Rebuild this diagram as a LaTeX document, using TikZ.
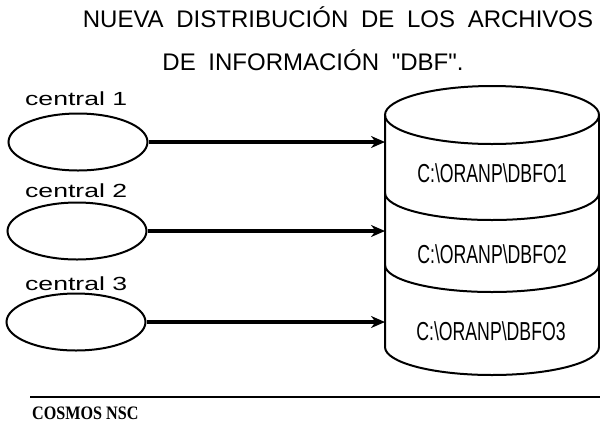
\documentclass[tikz,border=0pt]{standalone}
\usepackage{fontspec}
\setmainfont{Liberation Sans}
\newfontfamily\titlefont[WordSpace=1.9]{Liberation Sans}
\newfontfamily\dbffont[FakeStretch=0.68]{Liberation Sans}
\newfontfamily\centralfont[FakeStretch=1.4]{Liberation Sans}
\newfontfamily\footfont[FakeStretch=0.85]{Liberation Serif}
\usetikzlibrary{shapes,arrows.meta,positioning,calc}

\begin{document}
\begin{tikzpicture}[
  x=1pt, y=-1pt,
  title/.style   = {font=\titlefont\fontsize{24}{28}\selectfont, anchor=base, inner sep=0pt},
  central/.style = {font=\centralfont\fontsize{19}{22}\selectfont, anchor=base west, inner sep=0pt},
  src/.style     = {draw, line width=2pt, ellipse, minimum width=139pt, minimum height=57pt, inner sep=0pt},
  dbf/.style     = {font=\dbffont\fontsize{26}{30}\selectfont, anchor=base, inner sep=0pt},
  cyl/.style     = {line width=2pt},
  arr/.style     = {-{Stealth[length=14pt, width=12pt]}, line width=3.5pt},
]
\useasboundingbox (0,0) rectangle (600,424);
\node[title] (t1) at (338,27) {NUEVA DISTRIBUCIÓN DE LOS ARCHIVOS};
\node[title] (t2) at (313,70) {DE INFORMACIÓN \textquotedbl DBF\textquotedbl.};

\node[central] (c1) at (25,105) {central 1};
\node[central] (c2) at (25,197) {central 2};
\node[central] (c3) at (25,290) {central 3};
\node[src] (e1) at (78,142) {};
\node[src] (e2) at (77,231) {};
\node[src] (e3) at (76,322) {};

\draw[cyl] (492,115) ellipse [x radius=107, y radius=29];
\draw[cyl] (385,115) -- (385,347) arc[start angle=180, end angle=0, x radius=107, y radius=28] -- (599,115);
\draw[cyl] (385,193) arc[start angle=180, end angle=0, x radius=107, y radius=27];
\draw[cyl] (385,265) arc[start angle=180, end angle=0, x radius=107, y radius=27];
\coordinate (cylw) at (385,0);

\node[dbf] (d1) at (492,182) {C:\textbackslash ORANP\textbackslash DBFO1};
\node[dbf] (d2) at (492,263) {C:\textbackslash ORANP\textbackslash DBFO2};
\node[dbf] (d3) at (491,340) {C:\textbackslash ORANP\textbackslash DBFO3};

\draw[arr] (e1.east) -- (e1.east -| cylw);
\draw[arr] (e2.east) -- (e2.east -| cylw);
\draw[arr] (e3.east) -- (e3.east -| cylw);

\coordinate (fl) at (30,397);
\coordinate (fr) at (600,397);
\draw[line width=2.2pt] (fl) -- (fr);
\node[font=\footfont\bfseries\fontsize{19}{22}\selectfont, anchor=base west, inner sep=0pt] (foot) at (32,419) {COSMOS NSC};
\end{tikzpicture}
\end{document}
